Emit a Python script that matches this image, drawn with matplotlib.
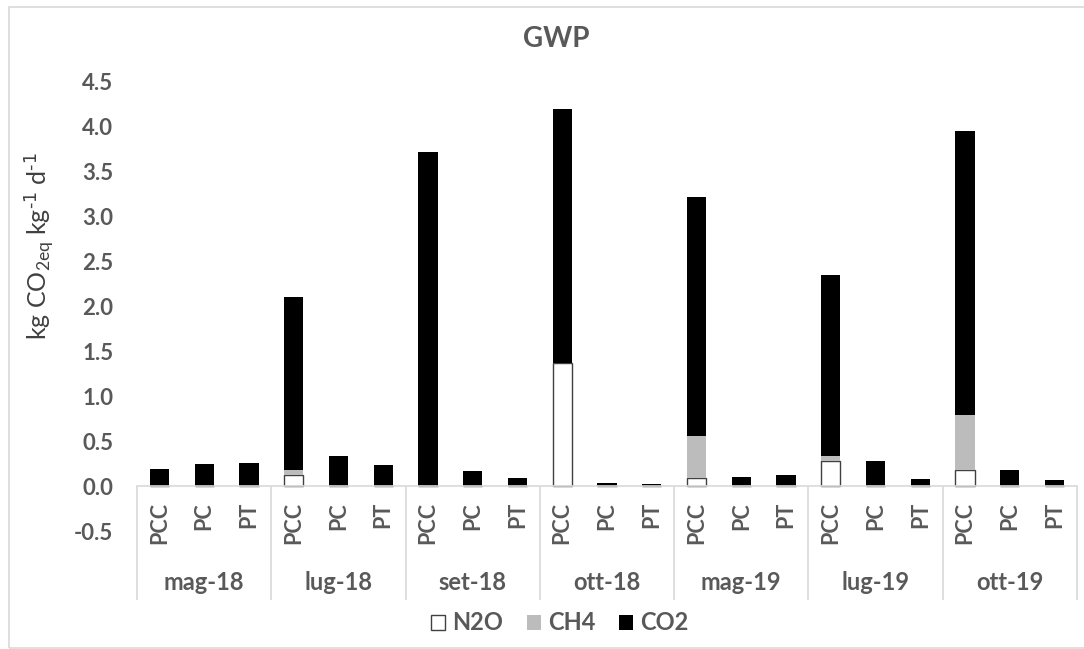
import matplotlib.pyplot as plt
from matplotlib.patches import Patch, Rectangle
import numpy as np

plt.rcParams['font.family'] = ['Lato', 'DejaVu Sans']
plt.rcParams['mathtext.default'] = 'regular'

# data
months = ['mag-18', 'lug-18', 'set-18', 'ott-18', 'mag-19', 'lug-19', 'ott-19']
treatments = ['PCC', 'PC', 'PT']
n2o = [0, 0, 0,   0.12, 0, 0,   0, 0, 0,   1.37, 0, 0,
       0.09, 0, 0,   0.28, 0, 0,   0.18, 0, 0]
ch4 = [0, 0, 0,   0.06, 0, 0,   0, 0, 0,   0, 0, 0,
       0.47, 0, 0,   0.05, 0, 0,   0.61, 0, 0]
co2 = [0.19, 0.245, 0.26,   1.93, 0.34, 0.23,   3.72, 0.17, 0.09,
       2.83, 0.035, 0.02,   2.66, 0.10, 0.12,   2.02, 0.28, 0.08,
       3.16, 0.18, 0.07]

grey_txt = '#595959'
line_col = '#d9d9d9'

fig = plt.figure(figsize=(10.84, 6.49), dpi=100)
ax = fig.add_axes([137 / 1084, 1 - 531 / 649, 940 / 1084, 449 / 649])

x = np.arange(len(co2))
w = 0.43
n2o = np.array(n2o)
ch4 = np.array(ch4)
co2 = np.array(co2)
ax.bar(x, n2o, w, color='white', edgecolor='#404040', linewidth=1.0)
ax.bar(x, ch4, w, bottom=n2o, color='#bcbcbc', linewidth=0)
ax.bar(x, co2, w, bottom=n2o + ch4, color='black', linewidth=0)

ax.set_xlim(-0.5, len(co2) - 0.5)
ax.set_ylim(-0.5, 4.5)
yt = np.arange(-0.5, 4.51, 0.5)
ax.set_yticks(yt)
ax.set_yticklabels(['%.1f' % v for v in yt], fontweight='bold')

for s in ['top', 'right', 'left']:
    ax.spines[s].set_visible(False)
ax.spines['bottom'].set_position(('data', 0))
ax.spines['bottom'].set_color(line_col)
ax.spines['bottom'].set_linewidth(1.2)

ax.set_xticks(x)
ax.set_xticklabels(treatments * len(months), rotation=90, fontweight='bold')
ax.tick_params(axis='x', length=0, pad=11.5, labelsize=15.5, labelcolor=grey_txt)
ax.tick_params(axis='y', length=0, pad=17, labelsize=16, labelcolor=grey_txt)

# multi-level category axis: separators and month labels
ax.vlines(np.arange(-0.5, len(co2), 3), -1.27, 0, color=line_col, lw=1.2, clip_on=False)
for i, m in enumerate(months):
    ax.text(3 * i + 1, -1.07, m, ha='center', va='center', fontsize=17,
            fontweight='bold', color=grey_txt, clip_on=False)

ax.set_ylabel(r'kg CO$_{2eq}$ kg$^{\text{-1}}$ d$^{\text{-1}}$', fontsize=18, color='#404040')
ax.yaxis.set_label_coords(-0.086, 0.635)

fig.text(556 / 1084, 1 - 39 / 649, 'GWP', ha='center', va='center', fontsize=20,
         fontweight='bold', color=grey_txt)

handles = [Patch(facecolor='white', edgecolor='#404040', label='N2O'),
           Patch(facecolor='#bcbcbc', label='CH4'),
           Patch(facecolor='black', label='CO2')]
leg = fig.legend(handles=handles, loc='center', bbox_to_anchor=(560 / 1084, 1 - 623 / 649),
                 ncol=3, frameon=False, fontsize=17, handlelength=0.6, handleheight=0.6,
                 handletextpad=0.3, columnspacing=1.0)
for t in leg.get_texts():
    t.set_color(grey_txt)
    t.set_fontweight('bold')

# light border round the chart area
fig.patches.append(Rectangle((9 / 1084, 1 - 648 / 649), 1.1, 641 / 649, transform=fig.transFigure,
                             fill=False, edgecolor=line_col, linewidth=1.2))

fig.savefig('out.png', dpi=100)
